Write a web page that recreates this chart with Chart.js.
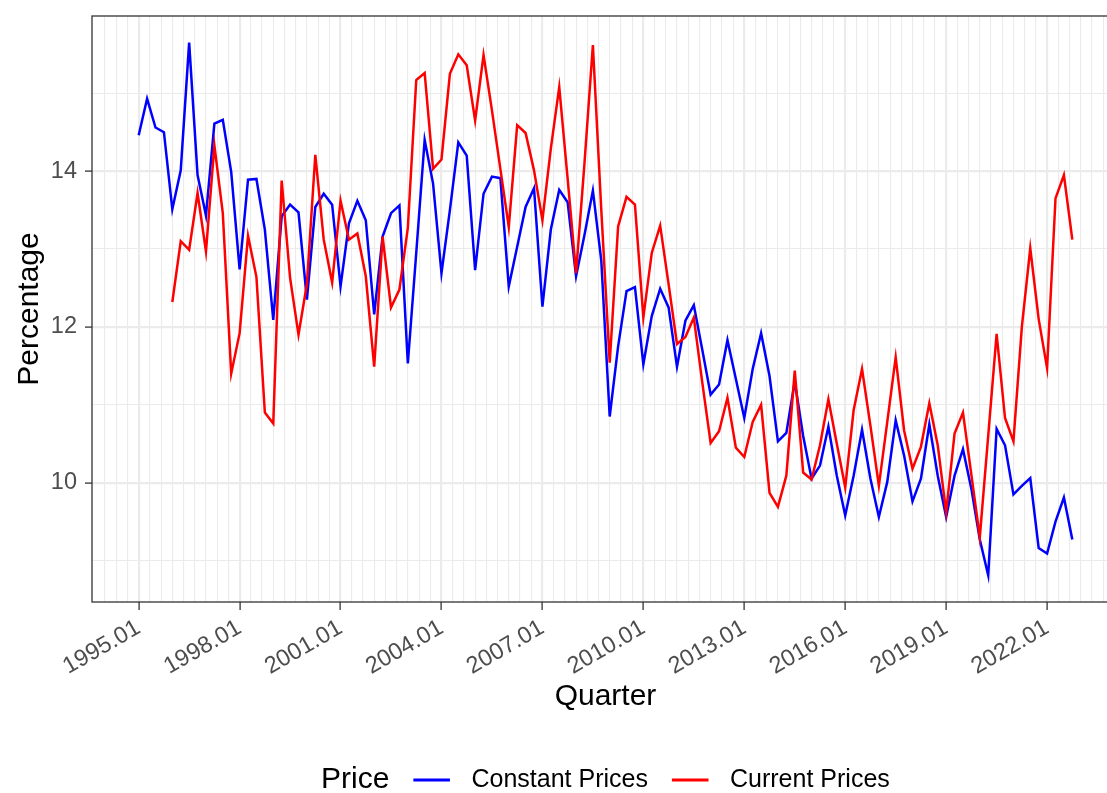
<!DOCTYPE html>
<html>
<head>
<meta charset="utf-8">
<script src="https://cdn.jsdelivr.net/npm/chart.js@4/dist/chart.umd.min.js"></script>
<style>
  html, body { margin: 0; padding: 0; background: #fff; overflow: hidden; }
  #wrap { position: absolute; left: 0; top: 0; }
</style>
</head>
<body>
<div id="wrap"><canvas id="chart" width="1125" height="793"></canvas></div>
<script>
// quarters 1995.01 .. 2022.04
const quarters = [];
for (let yr = 1995; yr <= 2022; yr++) {
    for (let q = 1; q <= 4; q++) quarters.push(yr + '.0' + q);
}

const constantPrices = [
    14.46, 14.93, 14.56, 14.50, 13.51, 14.01, 15.65, 13.95, 13.43, 14.61, 14.66, 13.99,
    12.74, 13.89, 13.90, 13.25, 12.09, 13.42, 13.57, 13.47, 12.35, 13.54, 13.71, 13.57,
    12.52, 13.33, 13.62, 13.37, 12.16, 13.16, 13.46, 13.56, 11.53, 12.95, 14.40, 13.84,
    12.69, 13.50, 14.37, 14.20, 12.73, 13.71, 13.93, 13.91, 12.52, 13.03, 13.54, 13.78,
    12.26, 13.25, 13.76, 13.60, 12.65, 13.18, 13.75, 12.85, 10.85, 11.75, 12.46, 12.51,
    11.52, 12.14, 12.49, 12.25, 11.49, 12.08, 12.28, 11.71, 11.13, 11.26, 11.83, 11.33,
    10.83, 11.46, 11.92, 11.37, 10.53, 10.64, 11.30, 10.60, 10.05, 10.22, 10.72, 10.09,
    9.58, 10.09, 10.68, 10.05, 9.56, 10.01, 10.80, 10.35, 9.76, 10.05, 10.75, 10.09,
    9.56, 10.09, 10.43, 9.92, 9.27, 8.81, 10.69, 10.48, 9.85, 9.96, 10.06, 9.16,
    9.09, 9.50, 9.81, 9.27
];

const currentPrices = [
    null, null, null, null, 12.32, 13.10, 12.99, 13.72, 12.97, 14.33, 13.46, 11.40,
    11.92, 13.17, 12.64, 10.90, 10.76, 13.88, 12.63, 11.90, 12.55, 14.21, 13.12, 12.57,
    13.62, 13.12, 13.20, 12.65, 11.49, 13.16, 12.25, 12.48, 13.27, 15.17, 15.26, 14.03,
    14.15, 15.25, 15.50, 15.36, 14.65, 15.49, 14.78, 14.03, 13.28, 14.59, 14.49, 14.01,
    13.37, 14.29, 15.08, 13.90, 12.69, 14.10, 15.62, 13.50, 11.54, 13.29, 13.67, 13.57,
    12.12, 12.95, 13.30, 12.55, 11.78, 11.87, 12.12, 11.29, 10.51, 10.66, 11.09, 10.45,
    10.33, 10.78, 11.00, 9.87, 9.69, 10.09, 11.44, 10.13, 10.04, 10.48, 11.07, 10.50,
    9.94, 10.93, 11.46, 10.73, 9.96, 10.78, 11.61, 10.67, 10.18, 10.46, 11.02, 10.48,
    9.62, 10.63, 10.90, 10.10, 9.30, 10.60, 11.91, 10.83, 10.53, 12.00, 13.01, 12.10,
    11.47, 13.65, 13.95, 13.12
];

const seriesNames = ['Constant Prices', 'Current Prices'];
const seriesColors = ['#0000ff', '#ff0000'];
const legendTitle = 'Price';
const xTickLabels = ['1995.01', '1998.01', '2001.01', '2004.01', '2007.01', '2010.01', '2013.01', '2016.01', '2019.01', '2022.01'];
const yTickValues = [9, 10, 11, 12, 13, 14, 15];
const yTickLabels = ['10', '12', '14'];

const FONT = '"Liberation Sans", Arial, Helvetica, sans-serif';

function isMajorX(v) { return Math.abs(v / 12 - Math.round(v / 12)) < 1e-6; }
function isMajorY(v) { return yTickLabels.includes(String(v)); }

const panelBorder = {
    id: 'panelBorder',
    afterDatasetsDraw(chart) {
        const {ctx, chartArea: a} = chart;
        ctx.save();
        ctx.strokeStyle = '#333333';
        ctx.lineWidth = 1.3;
        ctx.strokeRect(a.left, a.top, a.right - a.left, a.bottom - a.top);
        ctx.restore();
    }
};

const priceLegend = {
    id: 'priceLegend',
    afterDraw(chart) {
        const ctx = chart.ctx;
        const y = 780;
        ctx.save();
        ctx.textBaseline = 'middle';
        ctx.fillStyle = '#000';
        let x = 321;
        ctx.font = '30px ' + FONT;
        ctx.fillText(legendTitle, x, y);
        x += ctx.measureText(legendTitle).width + 24;
        ctx.font = '25px ' + FONT;
        chart.data.datasets.forEach(ds => {
            ctx.strokeStyle = ds.borderColor;
            ctx.lineWidth = 3;
            ctx.beginPath();
            ctx.moveTo(x, y);
            ctx.lineTo(x + 36.6, y);
            ctx.stroke();
            x += 36.6 + 21.5;
            ctx.fillText(ds.label, x, y);
            x += ctx.measureText(ds.label).width + 24;
        });
        ctx.restore();
    }
};

new Chart(document.getElementById('chart'), {
    type: 'line',
    data: {
        datasets: [
            {
                label: seriesNames[0],
                data: constantPrices.map((v, i) => ({x: i, y: v})),
                borderColor: seriesColors[0], borderWidth: 2.5,
                pointRadius: 0, tension: 0, fill: false, order: 1
            },
            {
                label: seriesNames[1],
                data: currentPrices.map((v, i) => ({x: i, y: v})),
                borderColor: seriesColors[1], borderWidth: 2.5,
                pointRadius: 0, tension: 0, fill: false, order: 0
            }
        ]
    },
    options: {
        responsive: false,
        animation: false,
        layout: { padding: { left: 0, top: 16, right: 6, bottom: 0 } },
        plugins: { legend: { display: false }, tooltip: { enabled: false } },
        scales: {
            x: {
                type: 'linear',
                min: -5.55, max: 116.55,
                afterBuildTicks: s => {
                    const t = [];
                    for (let k = -3; k * 4 / 3 <= 116.55; k++) t.push({value: k * 4 / 3});
                    s.ticks = t;
                },
                afterFit: s => { s.height = 191; s.paddingLeft = 0; s.paddingRight = 0; },
                border: { display: false },
                grid: {
                    color: '#ebebeb',
                    lineWidth: c => isMajorX(c.tick.value) ? 2.2 : 1.1,
                    tickColor: c => isMajorX(c.tick.value) ? '#333333' : 'rgba(0,0,0,0)',
                    tickWidth: 1.3,
                    tickLength: 8
                },
                ticks: {
                    autoSkip: false,
                    minRotation: 30, maxRotation: 30,
                    color: '#4d4d4d',
                    font: { family: FONT, size: 23.5 },
                    padding: 4,
                    callback: v => isMajorX(v) && v >= 0 ? xTickLabels[Math.round(v / 12)] : ''
                },
                title: {
                    display: true, text: 'Quarter', color: '#000',
                    font: { family: FONT, size: 30 },
                    padding: { top: 0, bottom: 78 }
                }
            },
            y: {
                min: 8.468, max: 15.992,
                afterBuildTicks: s => { s.ticks = yTickValues.map(v => ({value: v})); },
                afterFit: s => { s.width = 92; s.paddingTop = 0; s.paddingBottom = 0; },
                border: { display: false },
                grid: {
                    color: '#ebebeb',
                    lineWidth: c => isMajorY(c.tick.value) ? 2.2 : 1.1,
                    tickColor: c => isMajorY(c.tick.value) ? '#333333' : 'rgba(0,0,0,0)',
                    tickWidth: 1.3,
                    tickLength: 7
                },
                ticks: {
                    color: '#4d4d4d',
                    font: { family: FONT, size: 23.5 },
                    padding: 8,
                    callback: v => isMajorY(v) ? String(v) : ''
                },
                title: {
                    display: true, text: 'Percentage', color: '#000',
                    font: { family: FONT, size: 30 },
                    padding: { top: 12, bottom: 0 }
                }
            }
        }
    },
    plugins: [panelBorder, priceLegend]
});
</script>
</body>
</html>
